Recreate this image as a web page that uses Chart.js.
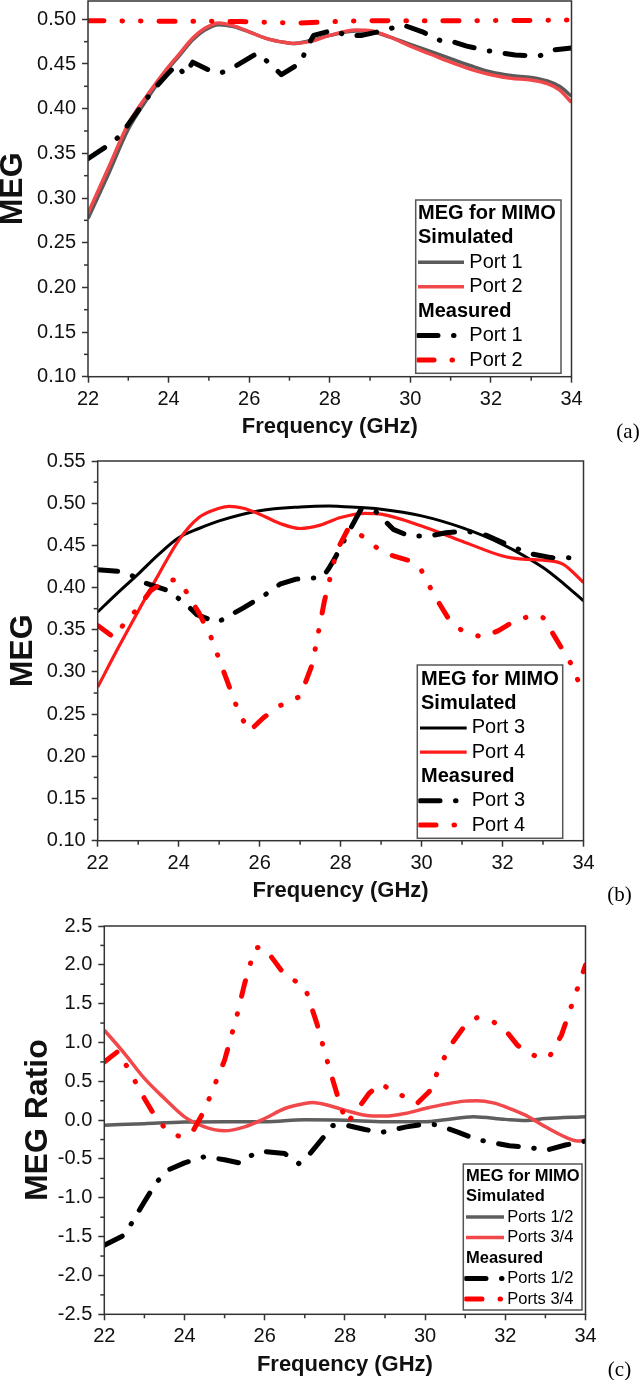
<!DOCTYPE html>
<html><head><meta charset="utf-8">
<script src="https://cdn.jsdelivr.net/npm/chart.js@4.4.1/dist/chart.umd.min.js"></script>
<style>
html,body{margin:0;padding:0;background:#fff;}
body{width:641px;height:1380px;position:relative;overflow:hidden;}
.wrap{position:absolute;left:0;width:641px;}
canvas{display:block;}
</style></head><body>
<div class="wrap" style="top:0;height:445px"><canvas id="ca" width="641" height="445"></canvas></div>
<div class="wrap" style="top:445px;height:460px"><canvas id="cb" width="641" height="460"></canvas></div>
<div class="wrap" style="top:905px;height:475px"><canvas id="cc" width="641" height="475"></canvas></div>
<script>
// ---------------- DATA ----------------
const FREQ_TICKS = [22, 24, 26, 28, 30, 32, 34];
const MEG_TICKS_A = [0.10, 0.15, 0.20, 0.25, 0.30, 0.35, 0.40, 0.45, 0.50];
const MEG_TICKS_B = [0.10, 0.15, 0.20, 0.25, 0.30, 0.35, 0.40, 0.45, 0.50, 0.55];
const RATIO_TICKS_C = [-2.5, -2.0, -1.5, -1.0, -0.5, 0.0, 0.5, 1.0, 1.5, 2.0, 2.5];

// (a) MEG ports 1/2
const A_SIM_F  = [22, 22.5, 23, 23.5, 24, 24.3, 24.6, 24.9, 25.25, 25.6, 26, 26.4, 26.9, 27.1, 27.5, 28, 28.65, 29.05, 29.5, 30, 30.5, 31, 31.5, 32, 32.5, 33, 33.4, 33.7, 34];
const A_SIM_P1 = [0.277, 0.326, 0.377, 0.413, 0.445, 0.461, 0.477, 0.488, 0.494, 0.492, 0.486, 0.479, 0.474, 0.473, 0.476, 0.482, 0.487, 0.486, 0.480, 0.472, 0.464, 0.456, 0.448, 0.441, 0.437, 0.435, 0.431, 0.425, 0.414];
const A_SIM_P2 = [0.283, 0.333, 0.383, 0.417, 0.447, 0.463, 0.479, 0.490, 0.496, 0.493, 0.486, 0.479, 0.474, 0.473, 0.475, 0.482, 0.488, 0.487, 0.480, 0.470, 0.461, 0.452, 0.444, 0.438, 0.434, 0.432, 0.428, 0.421, 0.407];
const A_MEAS_P1_F = [22, 22.6, 22.8, 23.2, 23.6, 24.0, 24.2, 24.4, 24.6, 25.1, 25.3, 25.6, 26.2, 26.5, 26.8, 27.3, 27.4, 27.6, 28.1, 28.4, 28.8, 29.4, 29.8, 30.3, 30.8, 31.05, 31.4, 31.9, 32.3, 32.6, 33.2, 33.6, 34];
const A_MEAS_P1   = [0.344, 0.362, 0.370, 0.395, 0.420, 0.440, 0.449, 0.438, 0.452, 0.441, 0.440, 0.446, 0.462, 0.451, 0.438, 0.452, 0.466, 0.482, 0.488, 0.482, 0.482, 0.488, 0.494, 0.486, 0.475, 0.475, 0.470, 0.465, 0.462, 0.460, 0.459, 0.466, 0.468];
const A_MEAS_P2_F = [22, 23, 24, 25, 25.8, 26.5, 27.2, 27.8, 28.5, 29.5, 30.5, 31.5, 32.5, 33.5, 34];
const A_MEAS_P2   = [0.4985, 0.4982, 0.4978, 0.4978, 0.4975, 0.4965, 0.4958, 0.4968, 0.4982, 0.4985, 0.4985, 0.4985, 0.4986, 0.4989, 0.4992];

// (b) MEG ports 3/4
const B_SIM_P3_F = [22, 22.5, 23, 23.5, 24, 24.5, 25, 26, 27, 27.7, 28, 29, 30, 31, 32, 33, 33.5, 34];
const B_SIM_P3   = [0.371, 0.394, 0.416, 0.439, 0.459, 0.470, 0.479, 0.491, 0.4955, 0.4967, 0.496, 0.4928, 0.485, 0.471, 0.4513, 0.4237, 0.405, 0.3842];
const B_SIM_P4_F = [22, 22.5, 23, 23.5, 24, 24.5, 25, 25.25, 25.6, 26, 26.5, 27, 27.5, 28, 28.6, 29, 30, 31, 32, 32.5, 33, 33.5, 34];
const B_SIM_P4   = [0.282, 0.328, 0.372, 0.415, 0.456, 0.483, 0.494, 0.4963, 0.494, 0.487, 0.476, 0.470, 0.474, 0.483, 0.488, 0.487, 0.473, 0.455, 0.4375, 0.4336, 0.4324, 0.4276, 0.406];
const B_MEAS_P3_F = [22, 22.6, 22.9, 23.2, 23.7, 23.9, 24.1, 24.45, 24.95, 25.3, 25.6, 26.15, 26.5, 26.9, 27.55, 27.7, 27.85, 28.2, 28.5, 28.85, 29.3, 29.7, 30.2, 30.6, 31.1, 31.6, 32.2, 32.7, 33.2, 34];
const B_MEAS_P3   = [0.421, 0.419, 0.413, 0.405, 0.397, 0.390, 0.384, 0.368, 0.3585, 0.368, 0.376, 0.392, 0.404, 0.410, 0.412, 0.422, 0.434, 0.466, 0.4925, 0.491, 0.469, 0.461, 0.461, 0.465, 0.467, 0.462, 0.449, 0.440, 0.4355, 0.435];
const B_MEAS_P4_F = [22, 22.4, 22.65, 23.0, 23.3, 23.7, 23.95, 24.15, 24.5, 24.8, 25.2, 25.5, 25.75, 26.1, 26.5, 27.0, 27.3, 27.6, 27.9, 28.2, 28.6, 29.0, 29.3, 29.7, 30.0, 30.3, 30.7, 31.0, 31.5, 31.9, 32.3, 32.8, 33.0, 33.3, 33.7, 34];
const B_MEAS_P4   = [0.355, 0.341, 0.357, 0.376, 0.396, 0.409, 0.409, 0.398, 0.370, 0.341, 0.289, 0.250, 0.230, 0.246, 0.260, 0.271, 0.309, 0.384, 0.443, 0.471, 0.459, 0.443, 0.4375, 0.432, 0.420, 0.392, 0.3605, 0.349, 0.341, 0.349, 0.3605, 0.368, 0.3645, 0.341, 0.309, 0.274];

// (c) MEG ratio
const C_SIM12_F = [22, 23, 24, 25, 26, 27, 28, 29, 30, 30.5, 31.2, 32, 32.5, 33, 34];
const C_SIM12   = [-0.065, -0.045, -0.025, -0.02, -0.02, 0.005, 0.0, -0.02, -0.02, 0.005, 0.045, 0.01, -0.005, 0.02, 0.045];
const C_SIM34_F = [22, 22.5, 23, 23.5, 24, 24.5, 25, 25.5, 26, 26.5, 27, 27.2, 27.5, 28, 28.5, 29, 29.5, 30, 30.5, 31, 31.3, 31.7, 32, 32.5, 33, 33.5, 33.8, 34];
const C_SIM34   = [1.16, 0.86, 0.537, 0.279, 0.043, -0.086, -0.137, -0.086, 0.021, 0.15, 0.215, 0.228, 0.202, 0.129, 0.064, 0.052, 0.086, 0.15, 0.206, 0.245, 0.249, 0.223, 0.172, 0.064, -0.086, -0.22, -0.27, -0.26];
const C_MEAS12_F = [22, 22.5, 22.7, 23.0, 23.3, 23.6, 24.0, 24.5, 25.0, 25.4, 25.6, 25.9, 26.5, 26.85, 27.1, 27.5, 27.7, 28.0, 28.5, 28.9, 29.5, 30.0, 30.3, 30.8, 31.3, 31.7, 32.1, 32.6, 33.0, 33.5, 34];
const C_MEAS12   = [-1.61, -1.48, -1.31, -1.05, -0.80, -0.64, -0.55, -0.47, -0.51, -0.555, -0.47, -0.40, -0.43, -0.56, -0.45, -0.20, -0.07, -0.06, -0.12, -0.16, -0.09, -0.05, -0.06, -0.15, -0.25, -0.29, -0.33, -0.35, -0.39, -0.32, -0.27];
const C_MEAS34_F = [22, 22.35, 22.5, 22.8, 23.0, 23.3, 23.6, 23.9, 24.2, 24.5, 24.8, 25.0, 25.3, 25.5, 25.75, 25.9, 26.1, 26.5, 26.8, 27.0, 27.3, 27.6, 27.9, 28.05, 28.3, 28.6, 28.9, 29.2, 29.5, 29.8, 30.1, 30.4, 30.7, 31.0, 31.3, 31.7, 32.0, 32.3, 32.6, 32.9, 33.1, 33.4, 33.7, 34];
const C_MEAS34   = [0.75, 0.89, 0.75, 0.47, 0.28, 0.02, -0.15, -0.215, -0.15, 0.13, 0.515, 0.773, 1.33, 1.76, 2.21, 2.234, 2.148, 1.869, 1.78, 1.72, 1.246, 0.687, 0.17, -0.04, 0.13, 0.344, 0.473, 0.365, 0.30, 0.215, 0.365, 0.73, 1.01, 1.224, 1.323, 1.267, 1.16, 0.966, 0.859, 0.795, 0.816, 1.095, 1.546, 1.997];

const LABELS_A = ['Port 1', 'Port 2', 'Port 1', 'Port 2'];
const LABELS_B = ['Port 3', 'Port 4', 'Port 3', 'Port 4'];
const LABELS_C = ['Ports 1/2', 'Ports 3/4', 'Ports 1/2', 'Ports 3/4'];

// ---------------- STYLES ----------------
const FONT = "'Liberation Sans', Arial, Helvetica, sans-serif";
Chart.defaults.font.family = FONT;
Chart.defaults.color = '#111';
const AXIS_COLOR = '#333';

const pts = (fs, vs) => fs.map((f, i) => ({x: f, y: vs[i]}));
const DASH_DOT = [20, 15.5, 0.5, 15.5];
const DASH_DOT_DOT = [16, 18, 0.5, 18, 0.5, 18];

function simDs(label, fs, vs, color, order, width) {
  return {label, data: pts(fs, vs), borderColor: color, borderWidth: width || 3.5, pointRadius: 0,
    tension: 0.4, cubicInterpolationMode: 'monotone', fill: false, order, borderCapStyle: 'butt'};
}
function measDs(label, fs, vs, color, dash, order) {
  return {label, data: pts(fs, vs), borderColor: color, borderWidth: 5, pointRadius: 0,
    tension: 0, fill: false, order, borderDash: dash, borderCapStyle: 'round', borderJoinStyle: 'round'};
}

// ---------------- PLUGINS ----------------
const framePlugin = {
  id: 'frame',
  afterDatasetsDraw(chart, args, o) {
    const {ctx, chartArea: a} = chart;
    ctx.save();
    ctx.strokeStyle = AXIS_COLOR; ctx.lineWidth = 1.5;
    ctx.strokeRect(a.left, a.top, a.right - a.left, a.bottom - a.top);
    ['x', 'y'].forEach(id => {
      const s = chart.scales[id];
      const t = s.ticks.map(k => k.value);
      for (let i = 0; i < t.length - 1; i++) {
        const p = s.getPixelForValue((t[i] + t[i + 1]) / 2);
        ctx.beginPath();
        if (id === 'x') { ctx.moveTo(p, a.bottom); ctx.lineTo(p, a.bottom + 4); }
        else { ctx.moveTo(a.left, p); ctx.lineTo(a.left - 4, p); }
        ctx.stroke();
      }
    });
    ctx.restore();
  }
};

const legendPlugin = {
  id: 'megLegend',
  afterDraw(chart, args, o) {
    if (!o || !o.rows) return;
    const ctx = chart.ctx;
    const [x0, y0, x1, y1] = o.box;
    ctx.save();
    ctx.fillStyle = '#fff';
    ctx.fillRect(x0, y0, x1 - x0, y1 - y0);
    ctx.strokeStyle = '#555'; ctx.lineWidth = 1.5;
    ctx.strokeRect(x0, y0, x1 - x0, y1 - y0);
    ctx.textAlign = 'left'; ctx.textBaseline = 'middle'; ctx.fillStyle = '#000';
    o.rows.forEach((r, i) => {
      const y = o.firstRow + i * o.rowH;
      if (r.ds === undefined) {
        ctx.font = 'bold ' + o.fontSize + 'px ' + FONT;
        ctx.fillText(r.text, o.headX, y);
      } else {
        const ds = chart.data.datasets[r.ds];
        ctx.save();
        ctx.beginPath(); ctx.rect(x0 + 1, y - 12, o.sample[1] - x0, 24); ctx.clip();
        ctx.strokeStyle = ds.borderColor; ctx.lineWidth = ds.borderWidth;
        ctx.setLineDash(ds.borderDash || []);
        ctx.lineCap = ds.borderCapStyle || 'butt';
        ctx.beginPath(); ctx.moveTo(o.sample[0], y); ctx.lineTo(o.sample[1], y); ctx.stroke();
        ctx.restore();
        ctx.font = o.fontSize + 'px ' + FONT;
        ctx.fillText(ds.label, o.textX, y);
      }
    });
    ctx.restore();
  }
};

const panelPlugin = {
  id: 'panel',
  afterDraw(chart, args, o) {
    if (!o || !o.text) return;
    const ctx = chart.ctx;
    ctx.save();
    ctx.font = "21px 'Liberation Serif', 'Times New Roman', serif";
    ctx.fillStyle = '#000'; ctx.textAlign = 'center'; ctx.textBaseline = 'middle';
    ctx.fillText(o.text, o.x, o.y);
    ctx.restore();
  }
};

// ---------------- CHART BUILDER ----------------
function makeChart(id, cfg) {
  const canvas = document.getElementById(id);
  const H = canvas.height;
  return new Chart(canvas, {
    type: 'line',
    data: {datasets: cfg.datasets},
    plugins: [framePlugin, legendPlugin, panelPlugin],
    options: {
      responsive: false, animation: false, devicePixelRatio: 1,
      layout: {padding: {left: 0, top: cfg.area.top, right: canvas.width - cfg.area.right, bottom: 0}},
      plugins: {
        legend: {display: false}, tooltip: {enabled: false},
        megLegend: cfg.legend, panel: cfg.panel
      },
      scales: {
        x: {
          type: 'linear', min: 22, max: 34,
          afterBuildTicks: s => { s.ticks = FREQ_TICKS.map(v => ({value: v})); },
          afterFit: s => { s.height = H - cfg.area.bottom; s.paddingLeft = 0; s.paddingRight = 0; },
          grid: {display: true, drawOnChartArea: false, drawTicks: true, tickLength: 6, tickWidth: 1.5, tickColor: AXIS_COLOR, color: AXIS_COLOR},
          border: {display: false},
          ticks: {autoSkip: false, maxRotation: 0, padding: 4.5, color: '#111', font: {size: 20}, callback: v => String(v)},
          title: {display: true, text: 'Frequency (GHz)', color: '#111', font: {size: 22, weight: 'bold'}, padding: {top: 0, bottom: cfg.xTitlePad}}
        },
        y: {
          type: 'linear', min: cfg.yMin, max: cfg.yMax,
          afterBuildTicks: s => { s.ticks = cfg.yTicks.map(v => ({value: v})); },
          afterFit: s => { s.width = cfg.area.left; s.paddingTop = 0; s.paddingBottom = 0; },
          grid: {display: true, drawOnChartArea: false, drawTicks: true, tickLength: 6, tickWidth: 1.5, tickColor: AXIS_COLOR, color: AXIS_COLOR},
          border: {display: false},
          ticks: {autoSkip: false, padding: 6, color: '#111', font: {size: 20}, callback: v => v.toFixed(cfg.yDec)},
          title: {display: true, text: cfg.yTitle, color: '#111', font: {size: 32, weight: 'bold', lineHeight: 0.8}, padding: {top: cfg.yTitlePad, bottom: 0}}
        }
      }
    }
  });
}

// (a)
makeChart('ca', {
  area: {left: 88, right: 571.5, top: 1, bottom: 376.7},
  yMin: 0.10, yMax: 0.5205, yTicks: MEG_TICKS_A, yDec: 2, yTitle: 'MEG', yTitlePad: 0, xTitlePad: 5,
  datasets: [
    simDs(LABELS_A[0], A_SIM_F, A_SIM_P1, '#5a5a5a', 3),
    simDs(LABELS_A[1], A_SIM_F, A_SIM_P2, '#f0484b', 2),
    measDs(LABELS_A[2], A_MEAS_P1_F, A_MEAS_P1, '#000000', DASH_DOT, 1),
    measDs(LABELS_A[3], A_MEAS_P2_F, A_MEAS_P2, '#ff0000', DASH_DOT_DOT, 0)
  ],
  legend: {box: [415.7, 200, 561, 373.3], firstRow: 213.3, rowH: 24.45, sample: [418, 464], textX: 469.3, headX: 418, fontSize: 20,
    rows: [{text: 'MEG for MIMO'}, {text: 'Simulated'}, {ds: 0}, {ds: 1}, {text: 'Measured'}, {ds: 2}, {ds: 3}]},
  panel: {text: '(a)', x: 628, y: 432}
});

// (b)
makeChart('cb', {
  area: {left: 97.7, right: 583.5, top: 16, bottom: 395.7},
  yMin: 0.10, yMax: 0.55, yTicks: MEG_TICKS_B, yDec: 2, yTitle: 'MEG', yTitlePad: 10, xTitlePad: 1,
  datasets: [
    simDs(LABELS_B[0], B_SIM_P3_F, B_SIM_P3, '#000000', 3, 3),
    simDs(LABELS_B[1], B_SIM_P4_F, B_SIM_P4, '#ff1a1a', 2, 3.2),
    measDs(LABELS_B[2], B_MEAS_P3_F, B_MEAS_P3, '#000000', DASH_DOT, 1),
    measDs(LABELS_B[3], B_MEAS_P4_F, B_MEAS_P4, '#ff0000', DASH_DOT_DOT, 0)
  ],
  legend: {box: [417.3, 220, 562.7, 393.3], firstRow: 234.3, rowH: 24.3, sample: [420, 466.7], textX: 471.7, headX: 421, fontSize: 20,
    rows: [{text: 'MEG for MIMO'}, {text: 'Simulated'}, {ds: 0}, {ds: 1}, {text: 'Measured'}, {ds: 2}, {ds: 3}]},
  panel: {text: '(b)', x: 619.5, y: 450}
});

// (c)
makeChart('cc', {
  area: {left: 104.3, right: 585.5, top: 21, bottom: 409.3},
  yMin: -2.5, yMax: 2.5, yTicks: RATIO_TICKS_C, yDec: 1, yTitle: 'MEG Ratio', yTitlePad: 25.4, xTitlePad: 2,
  datasets: [
    simDs(LABELS_C[0], C_SIM12_F, C_SIM12, '#5e5e5e', 3),
    simDs(LABELS_C[1], C_SIM34_F, C_SIM34, '#f0484b', 2),
    measDs(LABELS_C[2], C_MEAS12_F, C_MEAS12, '#000000', DASH_DOT, 1),
    measDs(LABELS_C[3], C_MEAS34_F, C_MEAS34, '#ff0000', DASH_DOT_DOT, 0)
  ],
  legend: {box: [463.3, 259, 582, 405], firstRow: 271, rowH: 20.5, sample: [466, 504], textX: 507.3, headX: 466, fontSize: 16.5,
    rows: [{text: 'MEG for MIMO'}, {text: 'Simulated'}, {ds: 0}, {ds: 1}, {text: 'Measured'}, {ds: 2}, {ds: 3}]},
  panel: {text: '(c)', x: 619.5, y: 465}
});
</script>
</body></html>
